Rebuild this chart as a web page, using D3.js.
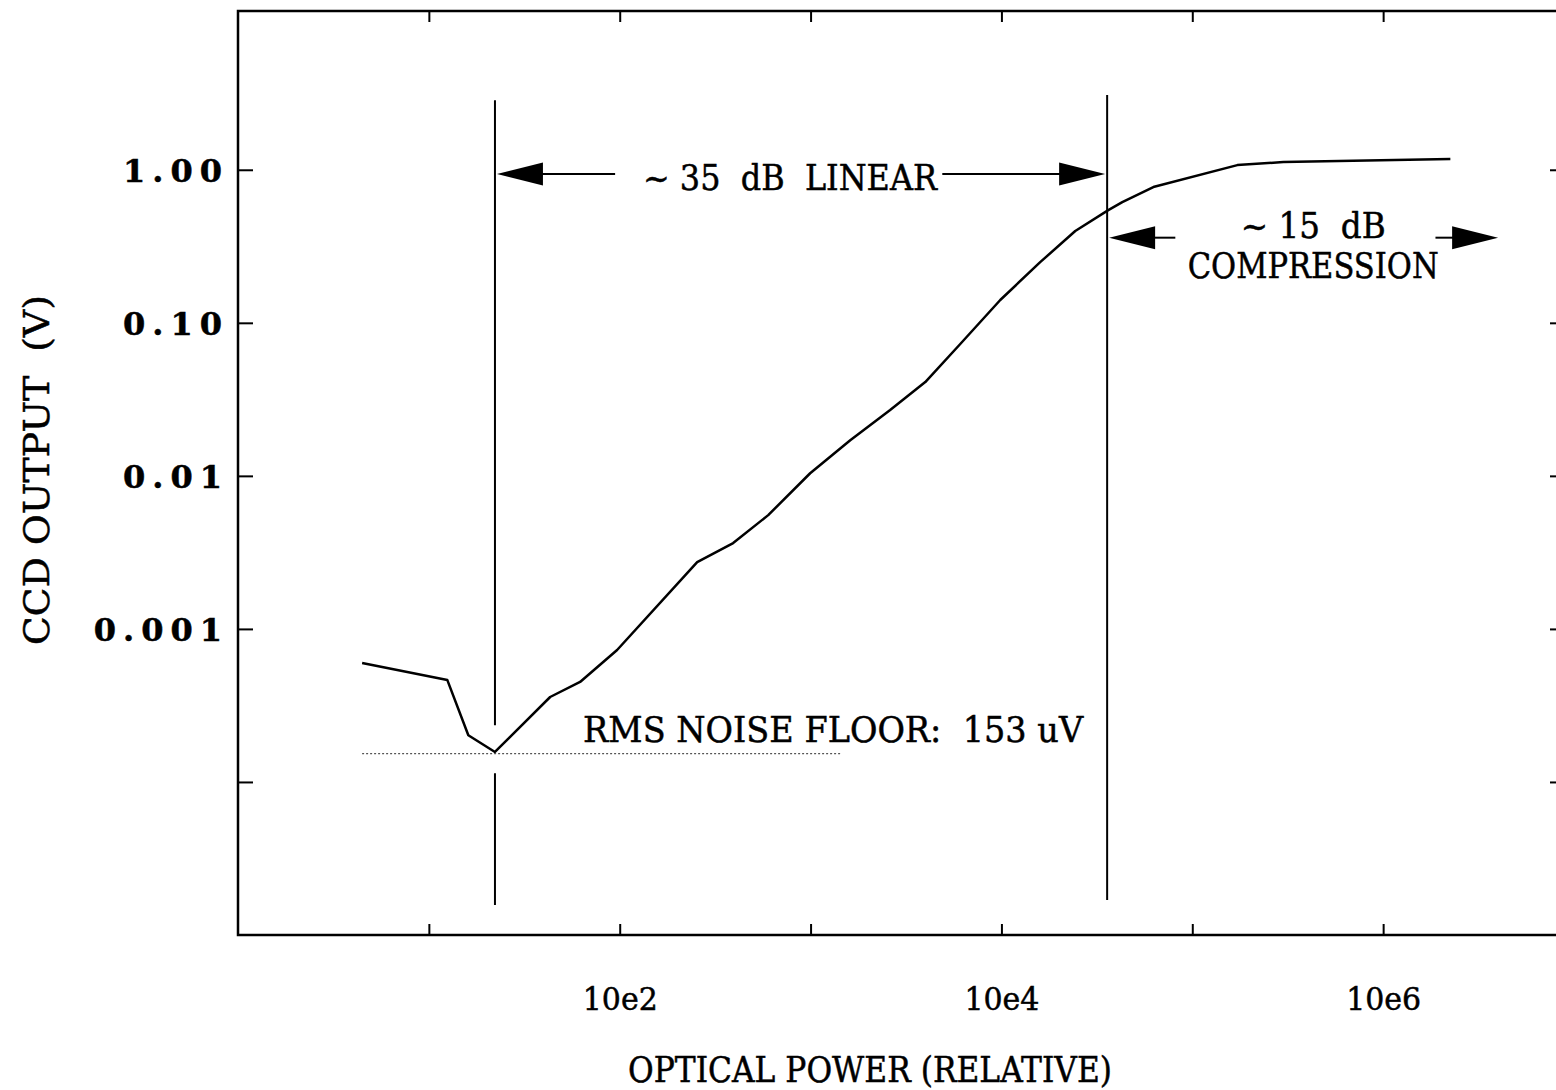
<!DOCTYPE html>
<html>
<head>
<meta charset="utf-8">
<script src="https://cdn.jsdelivr.net/npm/d3@7"></script>
<style>
  body { margin: 0; background: #fff; }
  text { font-family: "DejaVu Serif", "Liberation Serif", serif; fill: #000; stroke: #000; stroke-width: 0.5px; }
</style>
</head>
<body>
<div id="chart-area"></div>
<script>
// CCD output vs optical power (log-log)

// curve
const powerValues  = [4.47, 12.5, 16.1, 22.2, 43.2, 62, 96.9, 254.6, 393, 600, 995, 1614,
                      2612, 3990, 6085, 9860, 15960, 24370, 36300, 42980, 62500, 172200, 299900, 2250000];
const outputValues = [5.98e-4, 4.63e-4, 2.02e-4, 1.57e-4, 3.59e-4, 4.5e-4, 7.28e-4, 2.73e-3, 3.64e-3, 5.54e-3, 0.0104, 0.0171,
                      0.0269, 0.0410, 0.0727, 0.141, 0.249, 0.398, 0.545, 0.615, 0.771, 1.073, 1.123, 1.175];

// ticks
const xTickValues = [10, 100, 1000, 1e4, 1e5, 1e6, 1e7];
const xTickLabels = ["", "10e2", "", "10e4", "", "10e6", ""];
const yTickValues = [1, 0.1, 0.01, 0.001, 0.0001];
const yTickLabels = ["1.00", "0.10", "0.01", "0.001", ""];

// annotations
const markerPower  = [22.2, 35800];      // vertical lines
const markerTop    = [2.85, 3.08];
const markerBottom = [1.57e-5, 1.69e-5];
const markerGap    = [2.35e-4, 1.14e-4]; // break in first line around the minimum
const noiseFloor   = 153e-6;
const noiseSpan    = [4.47, 1430];
const linearSpan   = [22.2, 35800],  linearGap = [94.6, 4900],    linearLevel = 0.94;
const compSpan     = [35800, 4.1e6], compGap   = [81500, 1.88e6], compLevel   = 0.36;

const svgWidth = 1556, svgHeight = 1090;
const frame = { left: 238, right: 1574, top: 11, bottom: 935 };

var svg = d3.select("#chart-area").append("svg")
    .attr("width", svgWidth)
    .attr("height", svgHeight);

// Scales
var xScale = d3.scaleLog().domain([1, 1e7]).range([frame.left, frame.right]);
var yScale = d3.scaleLog().domain([1e-5, 10.9]).range([frame.bottom, frame.top]);

// text helper: fixed width like the original plotter lettering
function label(x, y, str, size, width, anchor, adjust){
    return svg.append("text")
        .attr("x", x).attr("y", y)
        .attr("text-anchor", anchor || "start")
        .attr("font-size", size)
        .attr("textLength", width)
        .attr("lengthAdjust", adjust || "spacingAndGlyphs")
        .style("white-space", "pre")
        .text(str);
}

// frame
svg.append("rect")
    .attr("x", frame.left).attr("y", frame.top)
    .attr("width", frame.right - frame.left)
    .attr("height", frame.bottom - frame.top)
    .attr("fill", "none")
    .attr("stroke", "#000")
    .attr("stroke-width", 2.5);

// Axes (ticks point inward)
var xAxis = svg.append("g")
    .attr("transform", "translate(0," + frame.bottom + ")")
    .call(d3.axisBottom(xScale).tickValues(xTickValues)
        .tickSize(-11).tickPadding(52)
        .tickFormat(function(d, i){ return xTickLabels[i]; }));

svg.append("g")
    .attr("transform", "translate(0," + frame.top + ")")
    .call(d3.axisTop(xScale).tickValues(xTickValues).tickSize(-11).tickFormat(""));

var yAxis = svg.append("g")
    .attr("transform", "translate(" + frame.left + ",0)")
    .call(d3.axisLeft(yScale).tickValues(yTickValues)
        .tickSize(-15).tickPadding(16)
        .tickFormat(function(d, i){ return yTickLabels[i]; }));

svg.append("g")
    .attr("transform", "translate(" + frame.right + ",0)")
    .call(d3.axisRight(yScale).tickValues(yTickValues).tickSize(-24).tickFormat(""));

svg.selectAll(".domain").remove();
svg.selectAll(".tick line").attr("stroke", "#000").attr("stroke-width", 2);

xAxis.selectAll("text")
    .attr("font-family", null)
    .attr("font-size", 32)
    .each(function(){
        if (!this.textContent) return;
        d3.select(this).attr("textLength", 75).attr("lengthAdjust", "spacingAndGlyphs");
    });

yAxis.selectAll("text")
    .attr("font-family", null)
    .attr("font-size", 32)
    .attr("font-weight", "bold")
    .attr("dy", "0.36em")
    .each(function(){
        var n = this.textContent.length;
        if (!n) return;
        d3.select(this)
            .attr("textLength", this.getComputedTextLength() + 7 * (n - 1))
            .attr("lengthAdjust", "spacing");
    });

// Axis titles
label(870, 1082, "OPTICAL POWER (RELATIVE)", 35, 484, "middle");

svg.append("g")
    .attr("transform", "translate(49,470) rotate(-90)")
  .append("text")
    .attr("text-anchor", "middle")
    .attr("font-size", 35)
    .attr("textLength", 350)
    .attr("lengthAdjust", "spacingAndGlyphs")
    .style("white-space", "pre")
    .text("CCD OUTPUT  (V)");

// noise floor (dotted)
svg.append("line")
    .attr("x1", xScale(noiseSpan[0])).attr("x2", xScale(noiseSpan[1]))
    .attr("y1", yScale(noiseFloor)).attr("y2", yScale(noiseFloor))
    .attr("stroke", "#555")
    .attr("stroke-width", 1.2)
    .attr("stroke-dasharray", "2,2");

label(xScale(64.3), yScale(1.82e-4), "RMS NOISE FLOOR:  153 uV", 36, 500);

// vertical marker lines
markerPower.forEach(function(p, i){
    var segs = (i === 0)
        ? [[markerTop[i], markerGap[0]], [markerGap[1], markerBottom[i]]]
        : [[markerTop[i], markerBottom[i]]];
    segs.forEach(function(s){
        svg.append("line")
            .attr("x1", xScale(p)).attr("x2", xScale(p))
            .attr("y1", yScale(s[0])).attr("y2", yScale(s[1]))
            .attr("stroke", "#000")
            .attr("stroke-width", 2);
    });
});

// curve
var line = d3.line()
    .x(function(d){ return xScale(d[0]); })
    .y(function(d){ return yScale(d[1]); });

svg.append("path")
    .attr("d", line(d3.zip(powerValues, outputValues)))
    .attr("fill", "none")
    .attr("stroke", "#000")
    .attr("stroke-width", 2.5)
    .attr("stroke-linejoin", "round");

// dimension arrows
function arrowHead(tipX, y, dir){
    // dir = -1 points left, +1 points right
    var len = 46, half = 11.5;
    return "M" + tipX + "," + y +
           "L" + (tipX - dir*len) + "," + (y - half) +
           "L" + (tipX - dir*len) + "," + (y + half) + "Z";
}

function dimArrow(span, gap, level){
    var y = yScale(level),
        x0 = xScale(span[0]) + 2,
        x1 = xScale(span[1]) - 2;
    svg.append("path").attr("d", arrowHead(x0, y, -1)).attr("fill", "#000");
    svg.append("path").attr("d", arrowHead(x1, y, 1)).attr("fill", "#000");
    svg.append("line")
        .attr("x1", x0 + 40).attr("x2", xScale(gap[0]))
        .attr("y1", y).attr("y2", y)
        .attr("stroke", "#000").attr("stroke-width", 2);
    svg.append("line")
        .attr("x1", xScale(gap[1])).attr("x2", x1 - 40)
        .attr("y1", y).attr("y2", y)
        .attr("stroke", "#000").attr("stroke-width", 2);
}

dimArrow(linearSpan, linearGap, linearLevel);
dimArrow(compSpan, compGap, compLevel);

label(xScale(780), yScale(0.737), "~ 35  dB  LINEAR", 36, 294, "middle");
label(xScale(430000), yScale(0.358), "~ 15  dB", 36, 145, "middle");
label(xScale(430000), yScale(0.196), "COMPRESSION", 36, 251, "middle");
</script>
</body>
</html>
